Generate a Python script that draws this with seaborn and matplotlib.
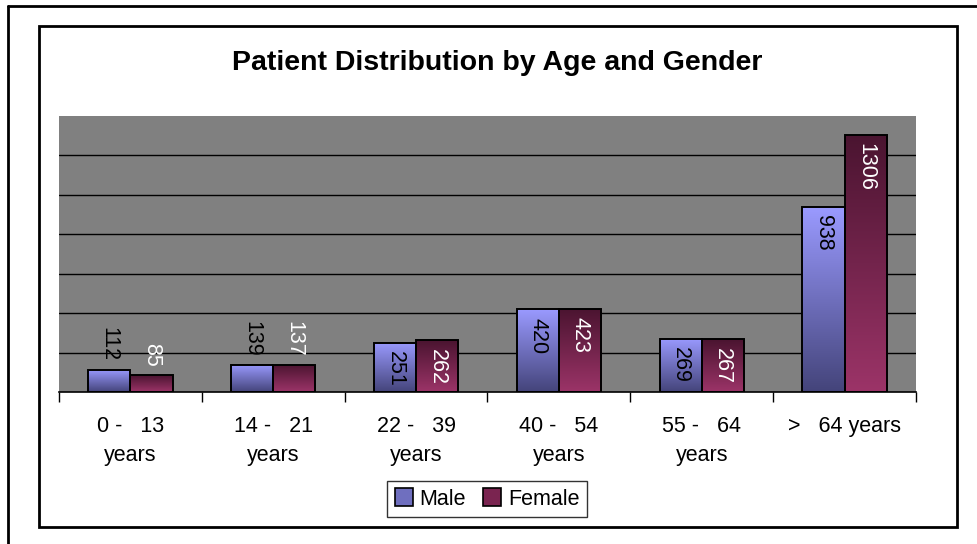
import numpy as np
import pandas as pd
import matplotlib.pyplot as plt
import seaborn as sns
from matplotlib.patches import Rectangle
from matplotlib.lines import Line2D

# data
age_groups = ["0 -   13\nyears", "14 -   21\nyears", "22 -   39\nyears",
              "40 -   54\nyears", "55 -   64\nyears", ">   64 years"]
male = [112, 139, 251, 420, 269, 938]
female = [85, 137, 262, 423, 267, 1306]
genders = ["Male", "Female"]

df = pd.DataFrame({
    "age": age_groups * 2,
    "count": male + female,
    "gender": ["Male"] * len(male) + ["Female"] * len(female),
})

# gradient colours (top, bottom) like the Excel fill
grad = {"Male": ("#9a9aff", "#44447a"), "Female": ("#4a1430", "#9c3468")}
label_color = {"Male": "black", "Female": "white"}

sns.set_style("white")
plt.rcParams["font.family"] = ["Liberation Sans", "DejaVu Sans"]
plt.rcParams["text.color"] = "black"
plt.rcParams["xtick.color"] = "black"
plt.rcParams["xtick.labelcolor"] = "black"

fig = plt.figure(figsize=(9.78, 5.44), dpi=100)
ax = fig.add_axes([59 / 978, 1 - 392 / 544, (916 - 59) / 978, (392 - 116) / 544])
ax.set_facecolor("#808080")

sns.barplot(data=df, x="age", y="count", hue="gender", hue_order=genders,
            palette={"Male": grad["Male"][0], "Female": grad["Female"][1]},
            width=0.59, edgecolor="black", linewidth=1.4, legend=False,
            ax=ax, zorder=3)


def vgrad(top, bottom, n=256):
    c1 = np.array(plt.matplotlib.colors.to_rgb(top))
    c2 = np.array(plt.matplotlib.colors.to_rgb(bottom))
    t = np.linspace(0, 1, n)[:, None]
    return (c1 * (1 - t) + c2 * t)[:, None, :]


bars = list(ax.patches)
for i, bar in enumerate(bars):
    g = genders[i // len(age_groups)]
    x, y0 = bar.get_x(), bar.get_y()
    w, h = bar.get_width(), bar.get_height()
    img = ax.imshow(vgrad(*grad[g]), extent=[x, x + w, y0, y0 + h],
                    aspect="auto", origin="upper", zorder=2.5)
    img.set_clip_path(bar)
    bar.set_facecolor("none")

    # value labels: rotated, inside the top unless the bar is too short
    val = int(round(h))
    if val < 200:
        ax.annotate(str(val), (x + w / 2, h), xytext=(0, 6), textcoords="offset points",
                    rotation=270, ha="center", va="bottom", fontsize=15.5,
                    color=label_color[g], zorder=5)
    else:
        ax.annotate(str(val), (x + w / 2, h), xytext=(0, -6), textcoords="offset points",
                    rotation=270, ha="center", va="top", fontsize=15.5,
                    color=label_color[g], zorder=5)

ax.set_ylim(0, 1400)
ax.set_xlim(-0.5, len(age_groups) - 0.5)

# gridlines every 200
for yv in range(200, 1400, 200):
    ax.axhline(yv, color="black", lw=1, zorder=1)

for s in ["top", "right", "left"]:
    ax.spines[s].set_visible(False)
ax.spines["bottom"].set_color("black")
ax.spines["bottom"].set_linewidth(1.2)
ax.spines["bottom"].set_zorder(4)

ax.set_yticks([])
ax.set_xlabel("")
ax.set_ylabel("")
ax.set_xticks(range(len(age_groups)))
ax.set_xticklabels(age_groups, fontsize=15.5, linespacing=1.5)
ax.tick_params(axis="x", which="major", length=0, pad=17)
ax.set_xticks(np.arange(-0.5, len(age_groups)), minor=True)
ax.tick_params(axis="x", which="minor", length=7, width=1, color="black",
               direction="out", bottom=True)

fig.text(497 / 978, 1 - 63 / 544, "Patient Distribution by Age and Gender",
         ha="center", va="center", fontsize=20.5, fontweight="bold")

# legend
handles = [Rectangle((0, 0), 1, 1, facecolor="#6f6fbf", edgecolor="black", lw=1.2),
           Rectangle((0, 0), 1, 1, facecolor="#7a2450", edgecolor="black", lw=1.2)]
leg = fig.legend(handles, genders, loc="center", bbox_to_anchor=(487 / 978, 1 - 499 / 544),
                 ncol=2, fontsize=15.5, frameon=True, fancybox=False,
                 handlelength=0.85, handleheight=0.85, handletextpad=0.3,
                 columnspacing=0.8, borderpad=0.35)
leg.get_frame().set_edgecolor("black")
leg.get_frame().set_linewidth(1)

# chart frames
fig.add_artist(Rectangle((39 / 978, 1 - 527 / 544), (957 - 39) / 978, (527 - 26) / 544,
                         transform=fig.transFigure, fill=False, edgecolor="black", lw=2))
fig.add_artist(Line2D([8 / 978, 8 / 978], [0, 1 - 6 / 544], transform=fig.transFigure,
                      color="black", lw=2))
fig.add_artist(Line2D([8 / 978, 1], [1 - 6 / 544, 1 - 6 / 544], transform=fig.transFigure,
                      color="black", lw=2))

fig.savefig("out.png", dpi=100)
